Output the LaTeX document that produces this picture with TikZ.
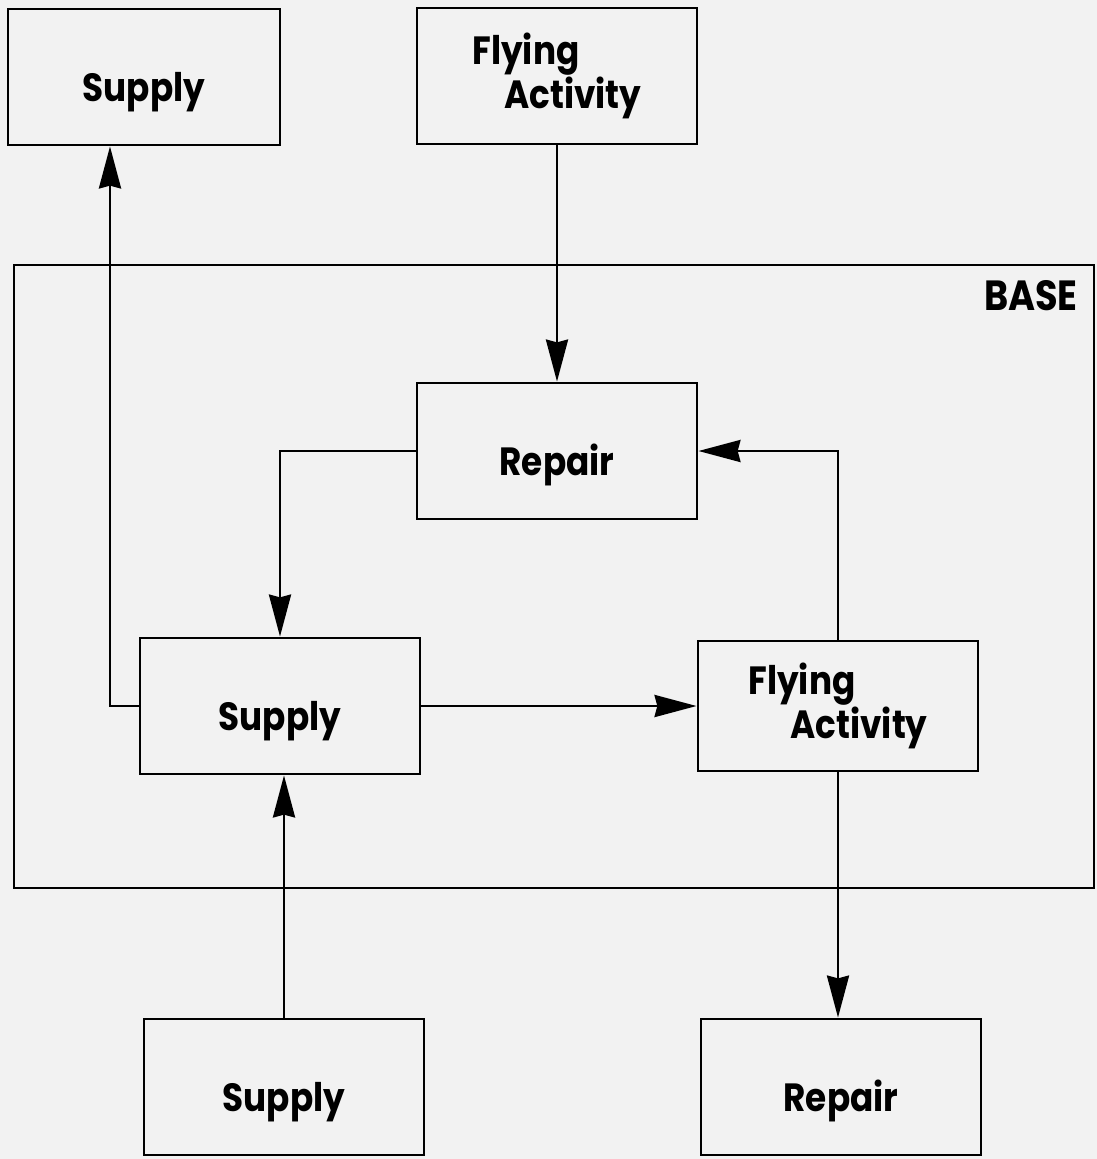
\documentclass[tikz,border=0pt]{standalone}
\usepackage{fontspec}
\setmainfont{Poppins}[FakeStretch=0.87]
\usetikzlibrary{arrows.meta,calc,positioning}
\definecolor{paper}{HTML}{F2F2F2}

\begin{document}
\begin{tikzpicture}[x=0.025cm,y=-0.025cm,>={Stealth[length=1.05cm,width=0.55cm,inset=0.07cm]},
  box/.style={draw,line width=2pt,minimum width=7cm,minimum height=3.4cm,inner sep=0pt,
    align=left,font=\bfseries\fontsize{28}{31}\selectfont},
  word/.style={text height=1.2cm,text depth=0pt},
  flow/.style={->,line width=2pt}]
  \fill[paper] (0,0) rectangle (1097,1159);
  % outside the base
  \node[box,word,minimum width=6.8cm] (supTop) at (144,77) {Supply};
  \node[box] (flyTop) at (557,76) {Flying\\\hspace*{0.8cm}Activity};
  \node[box,word] (supBot) at (284,1087) {Supply};
  \node[box,word] (repBot) at (841,1087) {Repair};
  % the base
  \draw[line width=2pt] (14,265) rectangle (1094,888);
  \node[font=\bfseries\fontsize{30}{32}\selectfont,anchor=base east,inner sep=0pt] (baseLbl) at (1078,310) {BASE};
  \node[box,word] (repIn) at (557,451) {Repair};
  \node[box,word] (supIn) at (280,706) {Supply};
  \node[box,minimum height=3.25cm,font=\bfseries\fontsize{28}{25}\selectfont] (flyIn) at (838,706) {Flying\\\hspace*{1.05cm}Activity};
  % flows
  \draw[flow] (supIn.west) -| ([xshift=-0.85cm]supTop.south);
  \draw[flow] (flyTop) -- (repIn);
  \draw[flow] (repIn.west) -| (supIn.north);
  \draw[flow] (supIn) -- (flyIn);
  \draw[flow] (flyIn.north) |- (repIn.east);
  \draw[flow] (supBot.north) -- (supBot.north |- supIn.south);
  \draw[flow] (flyIn.south) -- (flyIn.south |- repBot.north);
\end{tikzpicture}
\end{document}
